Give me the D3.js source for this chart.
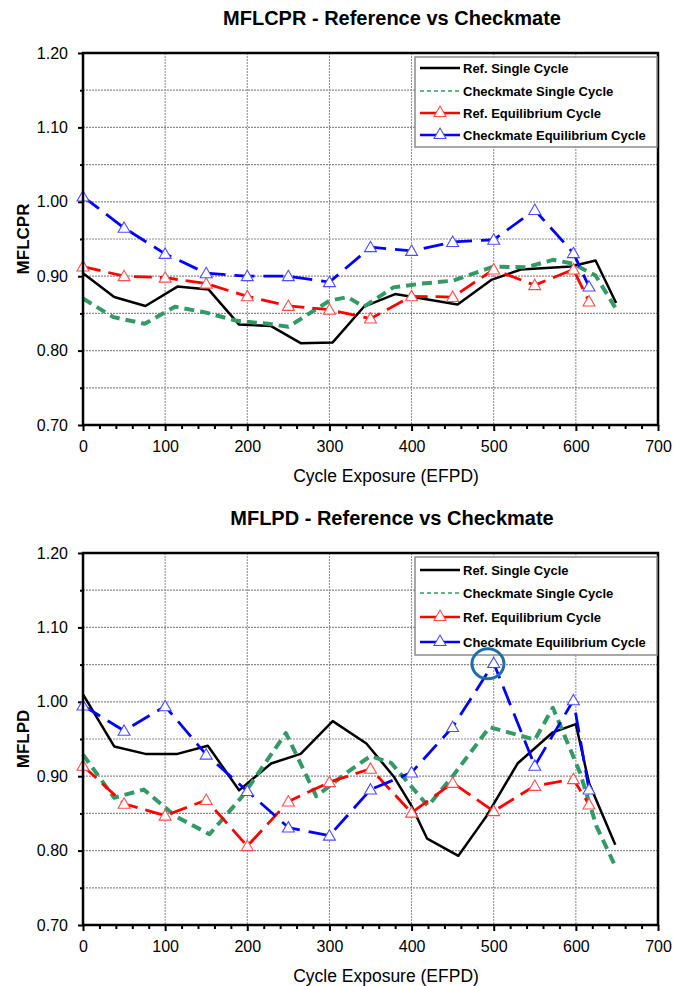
<!DOCTYPE html>
<html><head><meta charset="utf-8">
<script src="https://cdn.jsdelivr.net/npm/d3@7"></script>
<style>body{margin:0;background:#fff;} svg{display:block;}</style>
</head><body>
<svg id="c" width="689" height="986"></svg>
<script>
// ---------- data ----------
const seriesNames = ["Ref. Single Cycle", "Checkmate Single Cycle", "Ref. Equilibrium Cycle", "Checkmate Equilibrium Cycle"];
const chartTitles = ["MFLCPR - Reference vs Checkmate", "MFLPD - Reference vs Checkmate"];
const yTitles = ["MFLCPR", "MFLPD"];
const xTitle = "Cycle Exposure (EFPD)";
const xTickValues = [0, 100, 200, 300, 400, 500, 600, 700];
const yTickValues = [0.70, 0.80, 0.90, 1.00, 1.10, 1.20];

// MFLCPR
const cprRefSingleX = [0, 38, 76, 115, 153, 190, 229, 265, 304, 342, 380, 456, 497, 533, 594, 624, 649];
const cprRefSingleY = [0.904, 0.872, 0.860, 0.886, 0.882, 0.835, 0.833, 0.810, 0.811, 0.859, 0.876, 0.862, 0.895, 0.909, 0.913, 0.921, 0.864];
const cprCmSingleX = [0, 37, 75, 112, 150, 187, 225, 250, 300, 322, 342, 378, 412, 450, 500, 540, 572, 596, 624, 650];
const cprCmSingleY = [0.870, 0.845, 0.836, 0.859, 0.851, 0.840, 0.836, 0.832, 0.867, 0.872, 0.859, 0.885, 0.890, 0.894, 0.913, 0.912, 0.922, 0.917, 0.901, 0.854];
const eqX = [0, 50, 100, 150, 200, 250, 300, 350, 400, 450, 500, 550, 597, 616];
const cprRefEqY = [0.913, 0.900, 0.898, 0.890, 0.873, 0.860, 0.855, 0.843, 0.873, 0.872, 0.909, 0.888, 0.909, 0.866];
const cprCmEqY = [1.007, 0.965, 0.930, 0.904, 0.900, 0.900, 0.892, 0.939, 0.934, 0.946, 0.949, 0.989, 0.931, 0.886];

// MFLPD
const pdRefSingleX = [0, 38, 76, 115, 152, 190, 229, 265, 304, 345, 378, 400, 419, 457, 491, 529, 572, 600, 616, 648];
const pdRefSingleY = [1.010, 0.940, 0.930, 0.930, 0.941, 0.881, 0.917, 0.930, 0.974, 0.944, 0.900, 0.860, 0.816, 0.793, 0.846, 0.917, 0.959, 0.970, 0.891, 0.808];
const pdCmSingleX = [0, 38, 74, 113, 154, 194, 247, 284, 320, 350, 375, 420, 450, 495, 550, 572, 605, 625, 648];
const pdCmSingleY = [0.929, 0.871, 0.882, 0.846, 0.822, 0.873, 0.958, 0.873, 0.904, 0.927, 0.918, 0.860, 0.900, 0.966, 0.949, 0.992, 0.905, 0.833, 0.779];
const pdRefEqY = [0.914, 0.863, 0.847, 0.868, 0.806, 0.866, 0.892, 0.910, 0.851, 0.891, 0.853, 0.887, 0.896, 0.862];
const pdCmEqY = [0.995, 0.961, 0.994, 0.929, 0.880, 0.831, 0.820, 0.882, 0.905, 0.966, 1.052, 0.914, 1.002, 0.882];

// highlighted point (circled) in MFLPD chart
const highlightX = 493, highlightY = 1.051;

// ---------- styles ----------
const FONT = "'Liberation Sans', Arial, Helvetica, sans-serif";
const styles = [
  {color: "#000000", width: 2.5, dash: null, marker: false, legendWidth: 2.5, legendDash: null},
  {color: "#339966", width: 4, dash: "10,6", marker: false, legendWidth: 1.6, legendDash: "4,3"},
  {color: "#ff0000", width: 2.8, dash: "18,8", marker: true, mstroke: "#ff4d4d", legendWidth: 2.5, legendDash: null},
  {color: "#0000ff", width: 2.8, dash: "20,9", marker: true, mstroke: "#4d4dff", legendWidth: 2.5, legendDash: null}
];

function pairs(xs, ys) { return xs.map((x, i) => [x, ys[i]]); }

const charts = [
  {top: 53, bottom: 425, title: chartTitles[0], ytitle: yTitles[0],
   series: [pairs(cprRefSingleX, cprRefSingleY), pairs(cprCmSingleX, cprCmSingleY), pairs(eqX, cprRefEqY), pairs(eqX, cprCmEqY)],
   legend: {top: 4, h: 90, rows: [15, 38, 60, 82]}, highlight: null},
  {top: 553, bottom: 925, title: chartTitles[1], ytitle: yTitles[1],
   series: [pairs(pdRefSingleX, pdRefSingleY), pairs(pdCmSingleX, pdCmSingleY), pairs(eqX, pdRefEqY), pairs(eqX, pdCmEqY)],
   legend: {top: 4, h: 98, rows: [17, 40, 64, 89]}, highlight: [highlightX, highlightY]}
];

const svg = d3.select("#c");
const X0 = 83, X1 = 658;
const tri = d3.symbol().type(d3.symbolTriangle).size(62);

charts.forEach(ch => {
  const x = d3.scaleLinear().domain([0, 700]).range([X0, X1]);
  const y = d3.scaleLinear().domain([0.70, 1.20]).range([ch.bottom, ch.top]);
  const g = svg.append("g");

  // grid
  const hGrid = d3.range(0.70, 1.2001, 0.05).slice(1, -1);
  g.selectAll(".hg").data(hGrid).join("line")
    .attr("x1", X0).attr("x2", X1).attr("y1", d => y(d)).attr("y2", d => y(d))
    .attr("stroke", "#8a8a8a").attr("stroke-width", 1.2).attr("stroke-dasharray", "2,1");
  g.selectAll(".vg").data(xTickValues.slice(1, -1)).join("line")
    .attr("x1", d => x(d)).attr("x2", d => x(d)).attr("y1", ch.top).attr("y2", ch.bottom)
    .attr("stroke", "#8a8a8a").attr("stroke-width", 1).attr("stroke-dasharray", "2,1");

  // axes
  const yAxis = d3.axisLeft(y).tickValues(yTickValues).tickFormat(d3.format(".2f")).tickSize(5).tickPadding(10);
  const yMinor = d3.axisLeft(y).tickValues(d3.range(0.75, 1.2, 0.1)).tickFormat("").tickSize(3);
  const xAxis = d3.axisBottom(x).tickValues(xTickValues).tickFormat(d3.format("d")).tickSize(6).tickPadding(10);
  const xMinor = d3.axisBottom(x).tickValues(d3.range(20, 700, 20).filter(v => v % 100 !== 0)).tickFormat("").tickSize(4);

  const ya = g.append("g").attr("transform", `translate(${X0},0)`).call(yAxis);
  g.append("g").attr("transform", `translate(${X0},0)`).call(yMinor);
  const xa = g.append("g").attr("transform", `translate(0,${ch.bottom})`).call(xAxis);
  g.append("g").attr("transform", `translate(0,${ch.bottom})`).call(xMinor);
  g.selectAll(".domain").remove();
  g.selectAll(".tick line").attr("stroke", "#000").attr("stroke-width", 2);
  g.selectAll(".tick text").attr("font-family", FONT).attr("font-size", 16).attr("fill", "#000");

  // series
  const line = d3.line().x(d => x(d[0])).y(d => y(d[1]));
  ch.series.forEach((data, i) => {
    const s = styles[i];
    g.append("path").datum(data).attr("d", line)
      .attr("fill", "none").attr("stroke", s.color).attr("stroke-width", s.width)
      .attr("stroke-dasharray", s.dash).attr("stroke-linejoin", "round");
    if (s.marker) {
      g.selectAll(null).data(data).join("path")
        .attr("d", tri).attr("transform", d => `translate(${x(d[0])},${y(d[1]) + 1})`)
        .attr("fill", "#fff").attr("stroke", s.mstroke).attr("stroke-width", 1.1);
    }
  });

  // frame
  g.append("rect").attr("x", X0).attr("y", ch.top).attr("width", X1 - X0).attr("height", ch.bottom - ch.top)
    .attr("fill", "none").attr("stroke", "#000").attr("stroke-width", 2.5);

  // legend
  const L = ch.legend;
  const lg = g.append("g");
  lg.append("rect").attr("x", 415).attr("y", ch.top + L.top).attr("width", 242).attr("height", L.h)
    .attr("fill", "#fff").attr("stroke", "#8c8c8c").attr("stroke-width", 1.5);
  seriesNames.forEach((name, i) => {
    const s = styles[i];
    const yy = ch.top + L.rows[i];
    lg.append("line").attr("x1", 420).attr("x2", 460).attr("y1", yy).attr("y2", yy)
      .attr("stroke", s.color).attr("stroke-width", s.legendWidth).attr("stroke-dasharray", s.legendDash);
    if (s.marker) {
      lg.append("path").attr("d", tri).attr("transform", `translate(440,${yy})`)
        .attr("fill", "#fff").attr("stroke", s.mstroke).attr("stroke-width", 1.1);
    }
    lg.append("text").attr("x", 463).attr("y", yy).attr("dy", "0.35em")
      .attr("font-family", FONT).attr("font-weight", "bold").attr("font-size", 13)
      .text(name);
  });

  // highlight circle
  if (ch.highlight) {
    g.append("ellipse").attr("cx", x(ch.highlight[0])).attr("cy", y(ch.highlight[1]))
      .attr("rx", 16).attr("ry", 15).attr("fill", "none").attr("stroke", "#1f6fa5").attr("stroke-width", 3);
  }

  // titles
  svg.append("text").attr("x", 392).attr("y", ch.top - 35).attr("dy", "0.35em").attr("text-anchor", "middle")
    .attr("font-family", FONT).attr("font-weight", "bold").attr("font-size", 20).text(ch.title);
  svg.append("text").attr("x", 386).attr("y", ch.bottom + 51).attr("dy", "0.35em").attr("text-anchor", "middle")
    .attr("font-family", FONT).attr("font-size", 17.5).text(xTitle);
  svg.append("text").attr("transform", `translate(23,${(ch.top + ch.bottom) / 2}) rotate(-90)`)
    .attr("dy", "0.35em").attr("text-anchor", "middle")
    .attr("font-family", FONT).attr("font-weight", "bold").attr("font-size", 17).text(ch.ytitle);
});
</script>
</body></html>
